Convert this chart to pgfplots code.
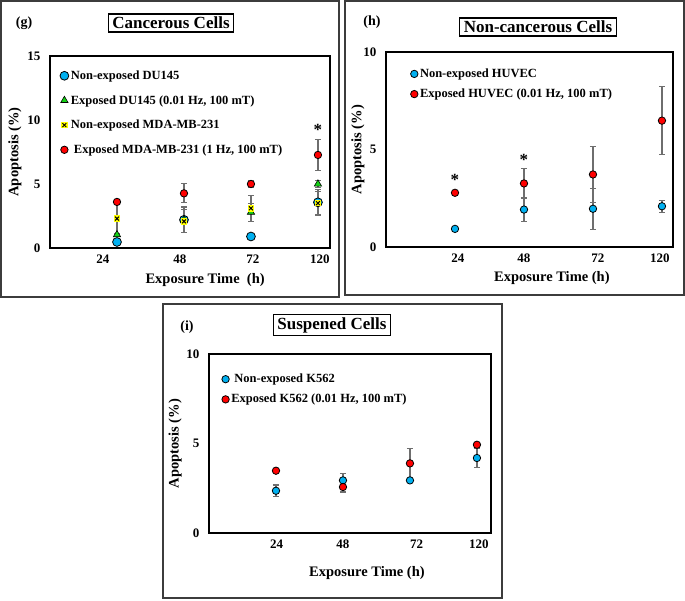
\documentclass[border=0pt]{standalone}
\usepackage{pgfplots}
\pgfplotsset{compat=1.18}
\usepackage{fontspec}
\setmainfont{Liberation Serif}

\definecolor{cblue}{RGB}{0,176,240}
\definecolor{cred}{RGB}{255,0,0}
\definecolor{cgreen}{RGB}{20,210,20}
\definecolor{cyel}{RGB}{255,255,0}
\definecolor{ebar}{RGB}{110,110,110}
\definecolor{frame}{RGB}{60,60,60}

% yellow square with a black cross (Excel "x" marker with yellow fill)
\pgfdeclareplotmark{yx}{%
  \pgfpathrectangle{\pgfqpoint{-\pgfplotmarksize}{-\pgfplotmarksize}}{\pgfqpoint{2\pgfplotmarksize}{2\pgfplotmarksize}}%
  \pgfsetfillcolor{cyel}\pgfusepathqfill
  \pgfpathmoveto{\pgfqpoint{-0.6\pgfplotmarksize}{-0.6\pgfplotmarksize}}%
  \pgfpathlineto{\pgfqpoint{0.6\pgfplotmarksize}{0.6\pgfplotmarksize}}%
  \pgfpathmoveto{\pgfqpoint{-0.6\pgfplotmarksize}{0.6\pgfplotmarksize}}%
  \pgfpathlineto{\pgfqpoint{0.6\pgfplotmarksize}{-0.6\pgfplotmarksize}}%
  \pgfusepathqstroke}

\newcommand{\tickfont}{\bfseries\fontsize{13}{13}\selectfont}
\newcommand{\labfont}{\bfseries\fontsize{14.5}{14.5}\selectfont}
\newcommand{\legfont}{\bfseries\fontsize{12.5}{14}\selectfont}

\pgfplotsset{
  panel/.style={
    scale only axis, xmin=0, ymin=0, clip=false,
    axis line style={line width=1.6pt},
    major tick length=0pt,
    /pgf/number format/assume math mode=true,
    ticklabel style={font=\tickfont},
    yticklabel style={xshift=-6pt},
    xticklabel style={yshift=-3pt},
    xlabel style={font=\labfont, anchor=center},
    ylabel style={font=\labfont, anchor=center},
    legend cell align=left,
    legend style={draw=none, fill=none, font=\legfont, anchor=north west,
      row sep=9pt, inner sep=0pt},
  },
  ebars/.style={draw=none, forget plot,
    error bars/.cd, y dir=both, y explicit,
    error bar style={draw=ebar, line width=1.2pt},
    error mark options={rotate=90, draw=ebar, mark size=3pt, line width=1.1pt}},
  blue/.style={only marks, mark=*, mark options={fill=cblue, draw=black, line width=0.8pt}},
  red/.style={only marks, mark=*, mark options={fill=cred, draw=black, line width=0.8pt}},
}

\begin{document}
\begin{tikzpicture}
\useasboundingbox (0,0) rectangle (685pt,-600pt);

% ---------- (g) cancerous cells
\begin{axis}[panel, at={(50pt,-248pt)}, anchor=south west,
  width=280pt, height=192pt, xmax=4.18, ymax=15, ytick={0,5,10,15},
  xtick={0.79,1.94,3.03,4.03}, xticklabels={24,48,72,120},
  xlabel={Exposure Time\ \ (h)}, ylabel={Apoptosis (\%)},
  xlabel style={at={(axis description cs:0.554,-0.167)}},
  ylabel style={at={(axis description cs:-0.125,0.5)}},
  legend style={at={(axis description cs:0.035,0.935)}, row sep=10.5pt}]
\addplot[ebars] coordinates {(2,2.2) +- (0,1.0) (4,3.57) +- (0,1.0)};
\addplot[ebars] coordinates {(3,2.8) +- (0,0.7) (4,5.0) +- (0,0.3)};
\addplot[ebars] coordinates {(1,2.3) +- (0,1.2) (2,2.08) +- (0,0.9) (3,3.1) +- (0,1.0) (4,3.5) +- (0,0.9)};
\addplot[ebars] coordinates {(2,4.27) +- (0,0.75) (3,5.0) +- (0,0.3) (4,7.27) +- (0,1.2)};
\addplot[blue, mark size=4.4pt] coordinates {(1,0.47) (2,2.2) (3,0.9) (4,3.57)};
\addplot[only marks, mark=triangle*, mark size=4.2pt, mark options={fill=cgreen, draw=black, line width=0.6pt}]
  coordinates {(1,1.04) (2,2.2) (3,2.8) (4,5.0)};
\addplot[only marks, mark=yx, mark size=3.2pt, mark options={draw=black, line width=1pt}]
  coordinates {(1,2.3) (2,2.08) (3,3.1) (4,3.5)};
\addplot[red, mark size=3.7pt] coordinates {(1,3.6) (2,4.27) (3,5.0) (4,7.27)};
\legend{Non-exposed DU145, Exposed DU145 (0.01 Hz{,} 100 mT),
  Non-exposed MDA-MB-231, \ Exposed MDA-MB-231 (1 Hz{,} 100 mT)}
\node[font=\bfseries\fontsize{17}{17}\selectfont] at (axis cs:4,9.25) {*};
\end{axis}

% ---------- (h) non-cancerous cells
\begin{axis}[panel, at={(386pt,-247pt)}, anchor=south west,
  width=287pt, height=195pt, xmax=4.16, ymax=10, ytick={0,5,10},
  xtick={1.04,2,3.07,3.97}, xticklabels={24,48,72,120},
  xlabel={Exposure Time (h)}, ylabel={Apoptosis (\%)},
  xlabel style={at={(axis description cs:0.578,-0.159)}},
  ylabel style={at={(axis description cs:-0.098,0.5)}},
  legend style={at={(axis description cs:0.085,0.925)}, row sep=6pt}]
\addplot[ebars] coordinates {(2,1.92) +- (0,0.63) (3,1.96) +- (0,1.05) (4,2.09) +- (0,0.3)};
\addplot[ebars] coordinates {(2,3.26) +- (0,0.77) (3,3.72) +- (0,1.45) (4,6.48) +- (0,1.73)};
\addplot[blue, mark size=3.7pt] coordinates {(1,0.93) (2,1.92) (3,1.96) (4,2.09)};
\addplot[red, mark size=3.7pt] coordinates {(1,2.78) (2,3.26) (3,3.72) (4,6.48)};
\legend{Non-exposed HUVEC, Exposed HUVEC (0.01 Hz{,} 100 mT)}
\node[font=\bfseries\fontsize{17}{17}\selectfont] at (axis cs:1,3.45) {*};
\node[font=\bfseries\fontsize{17}{17}\selectfont] at (axis cs:2,4.45) {*};
\end{axis}

% ---------- (i) suspended cells
\begin{axis}[panel, at={(209pt,-533pt)}, anchor=south west,
  width=282pt, height=179pt, xmax=4.21, ymax=10, ytick={0,5,10},
  xtick={1.01,2,3.1,4.03}, xticklabels={24,48,72,120},
  xlabel={Exposure Time (h)}, ylabel={Apoptosis (\%)},
  xlabel style={at={(axis description cs:0.56,-0.223)}},
  ylabel style={at={(axis description cs:-0.12,0.5)}},
  legend style={at={(axis description cs:0.045,0.9)}, row sep=6pt}]
\addplot[ebars] coordinates {(1,2.36) +- (0,0.32) (2,2.94) +- (0,0.4) (4,4.19) +- (0,0.52)};
\addplot[ebars] coordinates {(2,2.57) +- (0,0.28) (3,3.89) +- (0,0.82)};
\addplot[blue, mark size=3.7pt] coordinates {(1,2.36) (2,2.94) (3,2.94) (4,4.19)};
\addplot[red, mark size=3.7pt] coordinates {(1,3.48) (2,2.57) (3,3.89) (4,4.93)};
\legend{\ Non-exposed K562, Exposed K562 (0.01 Hz{,} 100 mT)}
\end{axis}

% ---------- frames and titles
\draw[frame, line width=1.3pt] (1pt,-1pt) rectangle (339pt,-297pt);
\draw[frame, line width=1.3pt] (345pt,-1pt) rectangle (684pt,-295pt);
\draw[frame, line width=1.3pt] (163pt,-304pt) rectangle (502pt,-598pt);
\node[draw, line width=1.2pt, inner xsep=4pt, inner ysep=3pt, font=\bfseries\fontsize{17}{17}\selectfont]
  at (171pt,-23pt) {Cancerous Cells};
\node[draw, line width=1.2pt, inner xsep=4pt, inner ysep=3pt, font=\bfseries\fontsize{17}{17}\selectfont]
  at (538pt,-27pt) {Non-cancerous Cells};
\node[draw, line width=1.2pt, inner xsep=4pt, inner ysep=3pt, font=\bfseries\fontsize{17}{17}\selectfont]
  at (332pt,-325pt) {Suspened Cells};
\node[font=\bfseries\fontsize{14}{14}\selectfont] at (24pt,-23pt) {(g)};
\node[font=\bfseries\fontsize{14}{14}\selectfont] at (372pt,-22pt) {(h)};
\node[font=\bfseries\fontsize{14}{14}\selectfont] at (187pt,-327pt) {(i)};
\end{tikzpicture}
\end{document}
